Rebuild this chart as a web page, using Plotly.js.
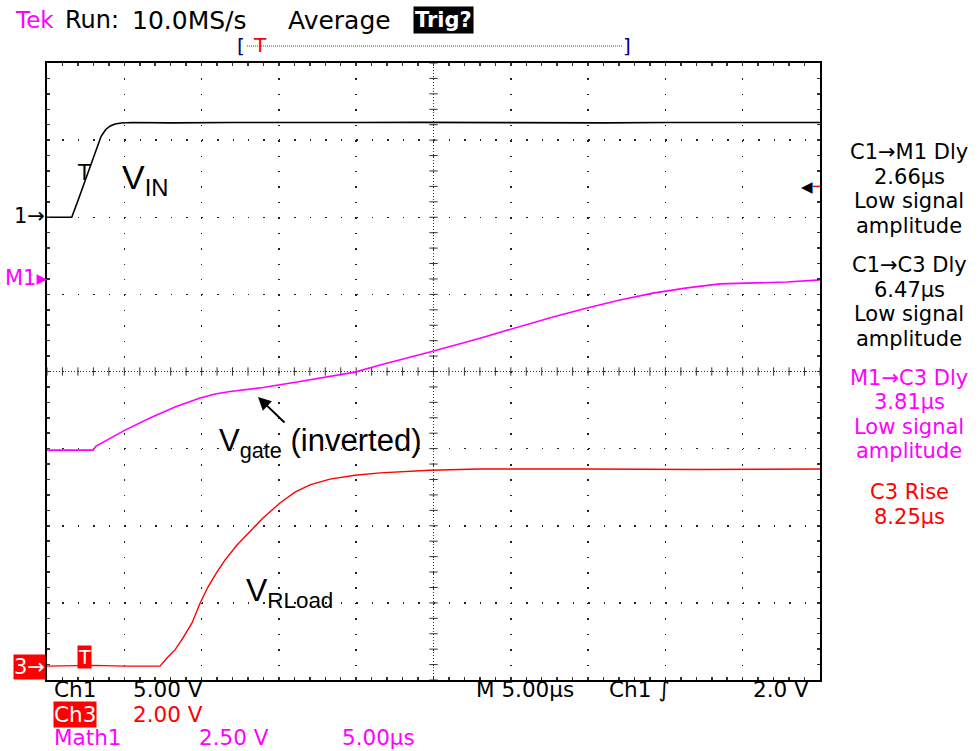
<!DOCTYPE html>
<html><head><meta charset="utf-8">
<script src="https://cdn.plot.ly/plotly-3.0.1.min.js"></script>
<style>html,body{margin:0;padding:0;background:#fff}</style>
</head><body><div id="chart" style="width:980px;height:751px"></div>
<script>
// ---- Data (time in µs from left edge of screen, 5 µs/div) ----
const timeVin = [0, 1.0, 1.6, 2.0, 2.5, 3.0, 3.5, 3.8, 4.1, 4.4, 4.8, 5.5, 8, 12, 16, 20, 24, 28, 32, 36, 40, 44, 48, 50];
const vinVolts = [0, 0.02, 0, 1.07, 2.46, 3.84, 5.25, 5.69, 5.92, 6.05, 6.11, 6.14, 6.12, 6.14, 6.12, 6.14, 6.15, 6.13, 6.14, 6.12, 6.14, 6.13, 6.14, 6.14];

const timeGate = [0, 2.98, 3.17, 4.08, 5.05, 6.66, 8.28, 9.90, 10.87, 11.84, 13.13, 13.97, 16.17, 18.30, 19.92, 21.54, 24.77, 28.01, 30.92, 32.73, 34.93, 37.06, 39.20, 41.40, 43.53, 45.66, 47.86, 50];
const gateVolts = [-5.58, -5.58, -5.45, -5.19, -4.93, -4.54, -4.18, -3.89, -3.76, -3.68, -3.60, -3.55, -3.37, -3.19, -3.05, -2.82, -2.40, -1.95, -1.52, -1.26, -0.97, -0.71, -0.49, -0.32, -0.19, -0.16, -0.13, -0.06];

const timeLoad = [0, 3, 5, 7.31, 7.76, 8.28, 8.80, 9.38, 9.90, 10.41, 10.99, 11.51, 12.29, 13.13, 13.97, 15.07, 16.04, 17.01, 18.30, 19.92, 21.54, 24.77, 28.01, 35, 42, 50];
const loadVolts = [0, 0.02, 0, 0, 0.21, 0.42, 0.73, 1.12, 1.63, 2.05, 2.44, 2.75, 3.14, 3.50, 3.84, 4.23, 4.51, 4.70, 4.85, 4.95, 5.01, 5.08, 5.11, 5.11, 5.10, 5.11];

const measLabels1 = ["C1→M1 Dly", "2.66µs", "Low signal", "amplitude"];
const measLabels2 = ["C1→C3 Dly", "6.47µs", "Low signal", "amplitude"];
const measLabels3 = ["M1→C3 Dly", "3.81µs", "Low signal", "amplitude"];
const measLabels4 = ["C3 Rise", "8.25µs"];

// ---- Geometry helpers ----
const L = 47, T = 63, W = 773, H = 617;
const ch1Range = [-30, 10];       // 5 V/div, ground 6 div up
const ch3Range = [-0.36, 15.64];  // 2 V/div
const mathRange = [-13.03, 6.97]; // 2.5 V/div
const BLACK = '#000', MAG = '#ff00ff', RED = '#ff0000';
const SCOPE = 'DejaVu Sans', ARIAL = 'Liberation Sans, Arial, sans-serif';
const px = x => (x - L) / W;
const py = y => (T + H - y) / H;

function A(text, x, y, font, o) {
  return Object.assign({
    xref: 'paper', yref: 'paper', x: px(x), y: py(y),
    text: text, showarrow: false, xanchor: 'center', yanchor: 'middle', borderpad: 0,
    font: Object.assign({family: SCOPE, size: 24, color: BLACK}, font || {})
  }, o || {});
}

// center-line crossbar decorations
const cx = [], cxy = [];
for (let i = 0; i <= 50; i++) { cx.push(i); cxy.push(-10); }
const cy = [], cyx = [];
for (let v = -30; v <= 10; v++) { cy.push(v); cyx.push(25); }

const traces = [
  {x: cx, y: cxy, mode: 'markers', xaxis: 'x', yaxis: 'y', hoverinfo: 'skip',
   marker: {symbol: 'line-ns', size: 6, line: {width: 1, color: '#333'}}},
  {x: cyx, y: cy, mode: 'markers', xaxis: 'x', yaxis: 'y', hoverinfo: 'skip',
   marker: {symbol: 'line-ew', size: 6, line: {width: 1, color: '#333'}}},
  {name: 'Ch1 VIN', x: timeVin, y: vinVolts, mode: 'lines', xaxis: 'x', yaxis: 'y',
   line: {color: BLACK, width: 1.6}},
  {name: 'Math1 Vgate', x: timeGate, y: gateVolts, mode: 'lines', xaxis: 'x', yaxis: 'y3',
   line: {color: MAG, width: 1.6}},
  {name: 'Ch3 VRLoad', x: timeLoad, y: loadVolts, mode: 'lines', xaxis: 'x', yaxis: 'y2',
   line: {color: RED, width: 1.4}}
];

const gx = '1.5px,13.925px';
const gy = '1.5px,13.96px';
const axisCommon = {
  showgrid: true, gridcolor: '#222', gridwidth: 1.5, zeroline: false,
  showline: true, linecolor: '#000', linewidth: 2, mirror: 'allticks',
  ticks: 'inside', ticklen: 3, tickwidth: 1.5, tickcolor: '#333',
  showticklabels: false, fixedrange: true
};

const B = 21.5; // bottom status font size
const annotations = [
  // header
  A('Tek', 14, 20, {color: MAG, size: 23}, {xanchor: 'left'}),
  A('Run:', 64, 20, {}, {xanchor: 'left'}),
  A('10.0MS/s', 131, 20, {size: 25}, {xanchor: 'left'}),
  A('Average', 287, 20, {size: 25}, {xanchor: 'left'}),
  A('<b>Trig?</b>', 444, 20, {color: '#fff', size: 21}, {bgcolor: '#000', borderpad: 1}),
  A('[', 241, 46, {color: '#000080', size: 20}),
  A(']', 627, 46, {color: '#000080', size: 20}),
  A('T', 260, 45, {color: RED, size: 20}),
  // left markers
  A('1→', 46, 216, {size: 21}, {xanchor: 'right'}),
  A('M1▸', 48, 278, {color: MAG, size: 21}, {xanchor: 'right'}),
  A('3→', 46, 667, {color: '#fff', size: 21}, {xanchor: 'right', bgcolor: RED}),
  A('T', 84, 657, {color: '#fff', size: 19}, {bgcolor: RED}),
  A('T', 84, 173, {size: 21}),
  A('◀', 807, 187, {size: 15}),
  // in-plot labels
  A('V<sub>IN</sub>', 121, 179, {family: ARIAL, size: 34}, {xanchor: 'left'}),
  A('V<sub>gate</sub> (inverted)', 218, 443, {family: ARIAL, size: 31}, {xanchor: 'left'}),
  A('V<sub>RLoad</sub>', 245, 592, {family: ARIAL, size: 32}, {xanchor: 'left'}),
  {xref: 'paper', yref: 'paper', x: px(258), y: py(397), axref: 'paper', ayref: 'paper',
   ax: px(286), ay: py(424), text: '', showarrow: true, arrowhead: 2, arrowsize: 1.3, arrowwidth: 2, arrowcolor: '#000'},
  // bottom status
  A('Ch1', 53, 689, {size: B}, {xanchor: 'left'}),
  A('5.00 V', 132, 689, {size: B}, {xanchor: 'left'}),
  A('M 5.00µs', 475, 689, {size: B}, {xanchor: 'left'}),
  A('Ch1 ∫', 608, 689, {size: B}, {xanchor: 'left'}),
  A('2.0 V', 752, 689, {size: B}, {xanchor: 'left'}),
  A('Ch3', 53, 714, {color: '#fff', size: B}, {xanchor: 'left', bgcolor: RED}),
  A('2.00 V', 132, 714, {color: RED, size: B}, {xanchor: 'left'}),
  A('Math1', 53, 751, {color: MAG, size: B}, {xanchor: 'left', yanchor: 'bottom'}),
  A('2.50 V', 198, 751, {color: MAG, size: B}, {xanchor: 'left', yanchor: 'bottom'}),
  A('5.00µs', 341, 751, {color: MAG, size: B}, {xanchor: 'left', yanchor: 'bottom'})
];
// measurement readouts: block centres as in the reference, tight line pitch
const pitch = 24.5;
const blocks = [[measLabels1, 189, BLACK], [measLabels2, 302, BLACK], [measLabels3, 414.5, MAG], [measLabels4, 504.5, RED]];
blocks.forEach(([lines, yc, col]) => {
  const y0 = yc - (lines.length - 1) * pitch / 2;
  lines.forEach((t, i) => annotations.push(A(t, 909, y0 + i * pitch, {color: col, size: 21})));
});

const layout = {
  width: 980, height: 751,
  margin: {l: L, r: 980 - L - W, t: T, b: 751 - T - H, pad: 0},
  paper_bgcolor: '#fff', plot_bgcolor: '#fff', showlegend: false,
  xaxis: Object.assign({}, axisCommon, {range: [0, 50], dtick: 5, tick0: 0, griddash: gx,
    minor: {dtick: 1, ticks: 'inside', ticklen: 3, tickwidth: 1.5, tickcolor: '#333', showgrid: false}}),
  yaxis: Object.assign({}, axisCommon, {range: ch1Range, dtick: 5, tick0: 0, griddash: gy,
    minor: {dtick: 1, ticks: 'inside', ticklen: 3, tickwidth: 1.5, tickcolor: '#333', showgrid: false}}),
  yaxis2: {overlaying: 'y', range: ch3Range, visible: false, fixedrange: true},
  yaxis3: {overlaying: 'y', range: mathRange, visible: false, fixedrange: true},
  shapes: [
    {type: 'line', xref: 'x', yref: 'paper', x0: 25, x1: 25, y0: 0, y1: 1, layer: 'below',
     line: {color: '#333', width: 1, dash: '1px,2px'}},
    {type: 'line', xref: 'paper', yref: 'y', x0: 0, x1: 1, y0: -10, y1: -10, layer: 'below',
     line: {color: '#333', width: 1, dash: '1px,2px'}},
    {type: 'line', xref: 'paper', yref: 'paper', x0: px(247), x1: px(622),
     y0: py(46), y1: py(46), line: {color: RED, width: 1, dash: '1px,1px'}},
    {type: 'line', xref: 'paper', yref: 'y', x0: px(813), x1: 1, y0: 2, y1: 2,
     line: {color: RED, width: 1.5}}
  ],
  annotations: annotations
};

Plotly.newPlot('chart', traces, layout, {displayModeBar: false, staticPlot: true});
</script></body></html>
